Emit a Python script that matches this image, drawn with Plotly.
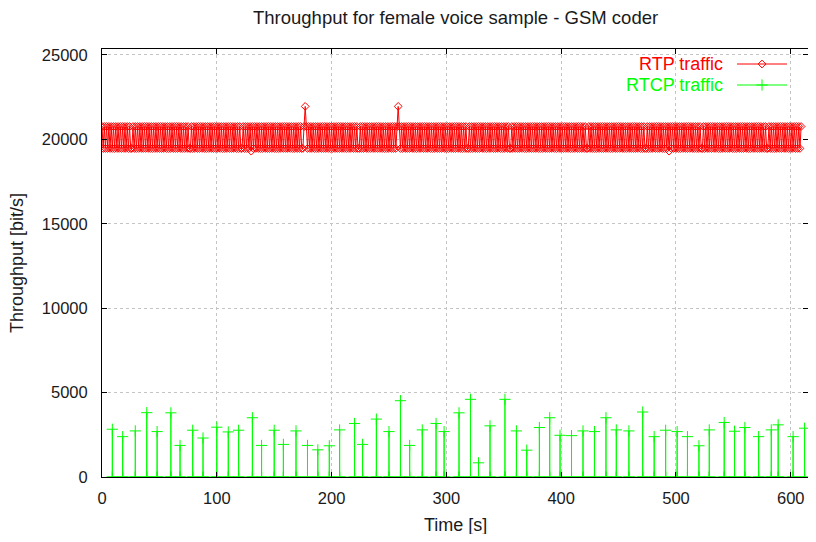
import plotly.graph_objects as go

# ---------------- data ----------------
# RTP throughput, one sample per second starting at t = 0 s
rtp_start = 0
rtp_step = 1
rtp_values = [
    20760,19460,20760,19460,20760,19460,20760,19460,20760,19460,20760,19460,20760,19460,20760,19460,
    20760,19460,20760,19460,20760,19460,20760,19460,20760,19460,19460,20760,19460,20760,19460,20760,
    19460,20760,19460,20760,19460,20760,19460,20760,19460,20760,19460,20760,19460,20760,19460,20760,
    19460,20760,19460,20760,19460,20760,19460,20760,19460,20760,19460,20760,19460,20760,19460,20760,
    19460,20760,19460,20760,19460,20760,19460,20760,19460,20760,19460,20760,19460,19460,20760,19460,
    20760,19460,20760,19460,20760,19460,20760,19460,20760,19460,20760,19460,20760,19460,20760,19460,
    20760,19460,20760,19460,20760,19460,20760,19460,20760,19460,20760,19460,20760,19460,20760,19460,
    20760,19460,20760,19460,20760,19460,20760,19460,20760,19460,19460,20760,19460,20760,19460,20760,
    19460,20760,19300,20760,19460,20760,19460,20760,19460,20760,19460,20760,19460,20760,19460,20760,
    19460,20760,19460,20760,19460,20760,19460,20760,19460,20760,19460,20760,19460,20760,19460,20760,
    19460,20760,19460,20760,19460,20760,19460,20760,19460,20760,19460,20760,19460,20760,19460,19460,
    20760,21950,20760,19460,20760,19460,20760,19460,20760,19460,20760,19460,20760,19460,20760,19460,
    20760,19460,20760,19460,20760,19460,20760,19460,20760,19460,20760,19460,20760,19460,20760,19460,
    20760,19460,20760,19460,20760,19460,20760,19460,20760,19460,20760,19460,20760,19460,20760,19460,
    19460,20760,19460,20760,19460,20760,19460,20760,19460,20760,19460,20760,19460,20760,19460,20760,
    19460,20760,19460,20760,19460,20760,19460,20760,19460,20760,19460,20760,19460,20760,19460,20760,
    19460,20760,21950,20760,19460,20760,19460,20760,19460,20760,19460,20760,19460,20760,19460,20760,
    19460,20760,19460,20760,19460,20760,19460,20760,19460,20760,19460,20760,19460,20760,19460,20760,
    19460,20760,19460,20760,19460,20760,19460,20760,19460,20760,19460,20760,19460,20760,19460,20760,
    19460,20760,19460,20760,19460,20760,19460,20760,19460,20760,19460,20760,19460,20760,19460,19460,
    20760,19460,20760,19460,20760,19460,20760,19460,20760,19460,20760,19460,20760,19460,20760,19460,
    20760,19460,20760,19460,20760,19460,20760,19460,20760,19460,20760,19460,20760,19460,20760,19460,
    20760,19460,20760,19460,19460,20760,19460,20760,19460,20760,19460,20760,19460,20760,19460,20760,
    19460,20760,19460,20760,19460,20760,19460,20760,19460,20760,19460,20760,19460,20760,19460,20760,
    19460,20760,19460,20760,19460,20760,19460,20760,19460,20760,19460,20760,19460,20760,19460,20760,
    19460,20760,19460,20760,19460,20760,19460,20760,19460,20760,19460,20760,19460,20760,19460,20760,
    19460,20760,19460,20760,19460,20760,19460,19460,20760,19460,20760,19460,20760,19460,20760,19460,
    20760,19460,20760,19460,20760,19460,20760,19460,20760,19460,20760,19460,20760,19460,20760,19460,
    20760,19460,20760,19460,20760,19460,20760,19460,20760,19460,20760,19460,20760,19460,20760,19460,
    20760,19460,20760,19460,20760,19460,20760,19460,20760,19460,19460,20760,19460,20760,19460,20760,
    19460,20760,19460,20760,19460,20760,19460,20760,19460,20760,19460,20760,19460,20760,19300,20760,
    19460,20760,19460,20760,19460,20760,19460,20760,19460,20760,19460,20760,19460,20760,19460,20760,
    19460,20760,19460,20760,19460,20760,19460,20760,19460,20760,19460,19460,20760,19460,20760,19460,
    20760,19460,20760,19460,20760,19460,20760,19460,20760,19460,20760,19460,20760,19460,20760,19460,
    20760,19460,20760,19460,20760,19460,20760,19460,20760,19460,20760,19460,20760,19460,20760,19460,
    20760,19460,20760,19460,20760,19460,20760,19460,20760,19460,20760,19460,20760,19460,20760,19460,
    20760,19460,20760,19460,19460,20760,19460,20760,19460,20760,19460,20760,19460,20760,19460,20760,
    19460,20760,19460,20760,19460,20760,19460,20760,19460,20760,19460,20760,19460,20760,19460,20760,
    19460,20760,
]
rtp_time = [rtp_start + i * rtp_step for i in range(len(rtp_values))]

# RTCP reports (time in s, throughput in bit/s)
rtcp_time = [9, 18, 29, 39, 48, 60, 68, 79, 88, 100,
             110, 119, 131, 139, 150, 158, 169, 179, 188, 198,
             207, 220, 227, 239, 250, 260, 268, 279, 291, 298,
             311, 321, 328, 338, 351, 361, 370, 381, 390, 399,
             409, 419, 429, 439, 448, 459, 471, 481, 491, 501,
             510, 520, 529, 542, 551, 560, 572, 583, 589, 602, 612]
rtcp_values = [2830, 2390, 2730, 3810, 2690, 3800, 1870, 2770, 2310, 2950,
               2670, 2770, 3510, 1870, 2770, 1930, 2730, 1870, 1610, 1850,
               2790, 3170, 1930, 3430, 2690, 4520, 1870, 2790, 3170, 2690,
               3800, 4600, 840, 3030, 4600, 2730, 1590, 2930, 3510, 2470,
               2450, 2730, 2690, 3510, 2790, 2730, 3850, 2390, 2770, 2690,
               2390, 1850, 2790, 3230, 2710, 2930, 2390, 2790, 3090, 2390, 2890]

x_ticks = [0, 100, 200, 300, 400, 500, 600]
y_ticks = [0, 5000, 10000, 15000, 20000, 25000]

title_text = "Throughput for female voice sample - GSM coder"
x_title = "Time [s]"
y_title = "Throughput [bit/s]"
series_names = ["RTP traffic", "RTCP traffic"]

# ---------------- style ----------------
RED = "#ff0000"
GREEN = "#00ff00"
FONT = "Liberation Sans, Arial, sans-serif"
TXT = "#1a1a1a"
WIN_W, WIN_H = 816, 542
OFF = 8                      # page body margin around the figure
W, H = WIN_W - 2 * OFF, WIN_H - 2 * OFF   # no overflow -> no scrollbars
FIG_R, FIG_B = OFF + W, OFF + H
# plot box in window pixels
BOX_L, BOX_R, BOX_T, BOX_B = 102, FIG_R, 49, 477
ML, MR, MT, MB = BOX_L - OFF, FIG_R - BOX_R, BOX_T - OFF, FIG_B - BOX_B
PW, PH = BOX_R - BOX_L, BOX_B - BOX_T

# RTCP drawn gnuplot-style: drop to zero between reports
rx, ry = [], []
for t, v in zip(rtcp_time, rtcp_values):
    rx += [t, t, t]
    ry += [0, v, 0]

fig = go.Figure()
fig.add_trace(go.Scatter(
    x=rtp_time, y=rtp_values, mode="lines+markers", name=series_names[0],
    line=dict(color=RED, width=1),
    marker=dict(symbol="diamond-open", size=6, color=RED, line=dict(color=RED, width=1)),
    showlegend=False))
fig.add_trace(go.Scatter(
    x=rx, y=ry, mode="lines+markers", name=series_names[1],
    line=dict(color=GREEN, width=1),
    marker=dict(symbol="cross-thin", size=8, color=GREEN, line=dict(color=GREEN, width=1)),
    showlegend=False))

# ----- legend drawn gnuplot-style (text left of sample) on an overlay axis in window pixels -----
leg_x0, leg_x1 = 737, 787
leg_rows = [64, 85]
fig.add_trace(go.Scatter(x=[leg_x0, leg_x1], y=[leg_rows[0]] * 2, mode="lines",
                         line=dict(color=RED, width=1), xaxis="x2", yaxis="y2",
                         showlegend=False, hoverinfo="skip"))
fig.add_trace(go.Scatter(x=[(leg_x0 + leg_x1) / 2], y=[leg_rows[0]], mode="markers",
                         marker=dict(symbol="diamond-open", size=6, color=RED,
                                     line=dict(color=RED, width=1)),
                         xaxis="x2", yaxis="y2", showlegend=False, hoverinfo="skip"))
fig.add_trace(go.Scatter(x=[leg_x0, leg_x1], y=[leg_rows[1]] * 2, mode="lines",
                         line=dict(color=GREEN, width=1), xaxis="x2", yaxis="y2",
                         showlegend=False, hoverinfo="skip"))
fig.add_trace(go.Scatter(x=[(leg_x0 + leg_x1) / 2], y=[leg_rows[1]], mode="markers",
                         marker=dict(symbol="cross-thin", size=8, color=GREEN,
                                     line=dict(color=GREEN, width=1)),
                         xaxis="x2", yaxis="y2", showlegend=False, hoverinfo="skip"))

def px_x(p):
    return (p - BOX_L) / PW

def px_y(p):
    return (BOX_B - p) / PH

axis_common = dict(
    showline=True, linecolor="#000000", linewidth=1, mirror="ticks",
    ticks="inside", ticklen=5, tickcolor="#000000", tickwidth=1,
    showgrid=True, gridcolor="#c4c4c4", gridwidth=1, griddash="3px,3px",
    zeroline=False, automargin=False, ticklabeloverflow="allow",
    tickfont=dict(family=FONT, size=16.5, color=TXT),
)

fig.update_layout(
    width=W, height=H,
    margin=dict(l=ML, r=MR, t=MT, b=MB, autoexpand=False),
    paper_bgcolor="white", plot_bgcolor="white",
    xaxis=dict(range=[0, 615], tickvals=x_ticks, ticklabelstandoff=6, **axis_common),
    yaxis=dict(range=[0, 25350], tickvals=y_ticks, tickformat="d", ticklabelstandoff=10,
               **axis_common),
    xaxis2=dict(domain=[0, 1], range=[BOX_L, BOX_R], visible=False, anchor="y2",
                overlaying="x", automargin=False),
    yaxis2=dict(domain=[0, 1], range=[BOX_B, BOX_T], visible=False, anchor="x2",
                overlaying="y", automargin=False),
    showlegend=False,
    annotations=[
        dict(text=title_text, xref="paper", yref="paper", x=0.5, y=px_y(17),
             xanchor="center", yanchor="middle", showarrow=False,
             font=dict(family=FONT, size=18.5, color=TXT)),
        dict(text=x_title, xref="paper", yref="paper", x=0.5, y=px_y(525),
             xanchor="center", yanchor="middle", showarrow=False,
             font=dict(family=FONT, size=18, color=TXT)),
        dict(text=y_title, xref="paper", yref="paper", x=px_x(17), y=0.5,
             xanchor="center", yanchor="middle", showarrow=False, textangle=-90,
             font=dict(family=FONT, size=18, color=TXT)),
        dict(text=series_names[0], xref="paper", yref="paper", x=px_x(725), y=px_y(leg_rows[0]),
             xanchor="right", yanchor="middle", showarrow=False,
             font=dict(family=FONT, size=18, color=RED)),
        dict(text=series_names[1], xref="paper", yref="paper", x=px_x(725), y=px_y(leg_rows[1]),
             xanchor="right", yanchor="middle", showarrow=False,
             font=dict(family=FONT, size=18, color=GREEN)),
    ],
)

fig.write_html("out.html")
